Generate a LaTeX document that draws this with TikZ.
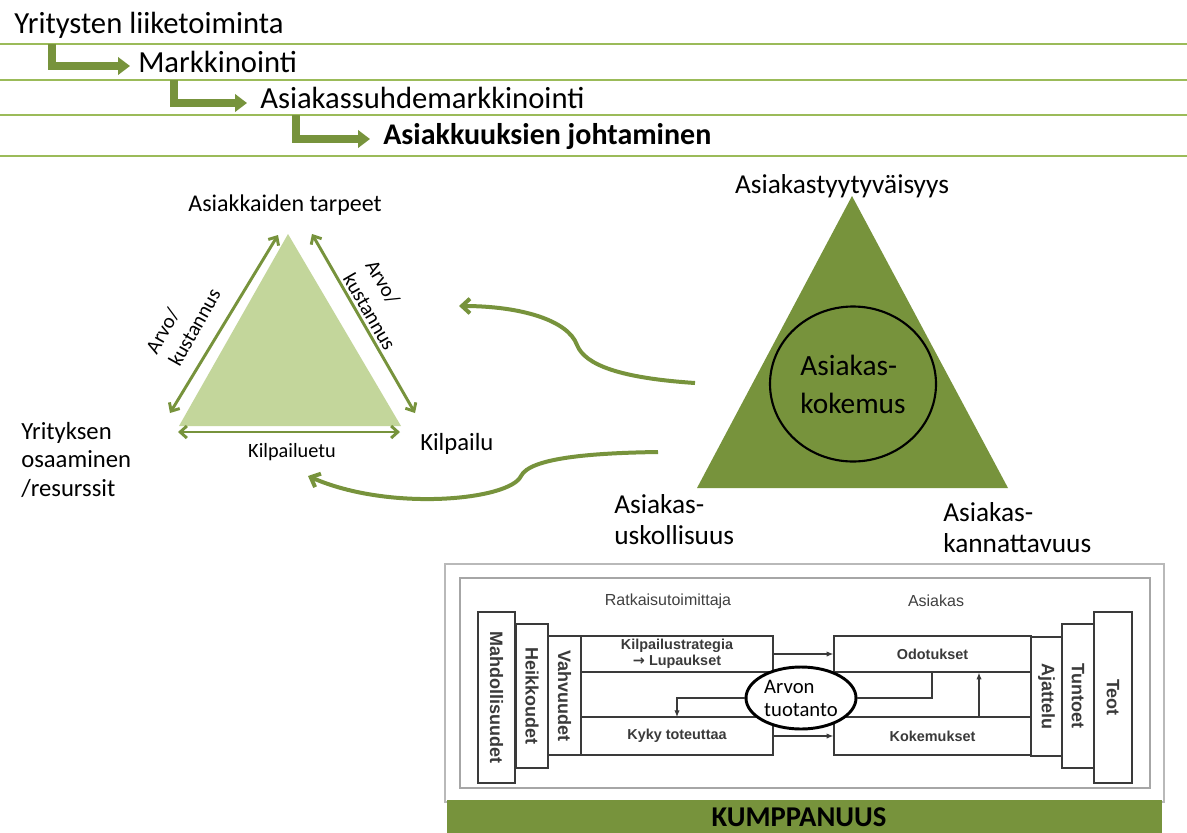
\documentclass[tikz,border=0pt]{standalone}
\usepackage{fontspec}
\setmainfont{Carlito}
\newfontfamily\arialf{Liberation Sans}
\newfontfamily\arrowf{DejaVu Sans}
\usetikzlibrary{arrows.meta,shapes.geometric,calc}
\definecolor{olive}{HTML}{77933C}
\definecolor{lightolive}{HTML}{C3D69B}
\definecolor{rulegreen}{HTML}{9BBB59}
\definecolor{ink}{HTML}{3A3A3A}
\begin{document}
\begin{tikzpicture}[x=0.75pt,y=-0.75pt,
  rulel/.style={rulegreen,line width=1.5pt},
  stair/.style={olive,line width=6pt,line join=miter,-{Triangle[length=9pt,width=13pt]}},
  dbl/.style={olive,line width=2.2pt,{Straight Barb[length=5pt,width=9pt]}-{Straight Barb[length=5pt,width=9pt]}},
  flow/.style={olive,line width=3pt,-{Straight Barb[length=6pt,width=11pt]}},
  topl/.style={anchor=base west,inner sep=0pt,font=\fontsize{23}{27}\selectfont},
  lab/.style={inner sep=0pt,font=\fontsize{18.5}{21.4}\selectfont,align=left},
  big/.style={inner sep=0pt,font=\fontsize{20.5}{23.3}\selectfont,align=left},
  sbox/.style={draw=ink,line width=1.1pt,fill=white,inner sep=0pt,rotate=-90,
    font=\arialf\bfseries\fontsize{13.5}{15}\selectfont,text=ink},
  hbox/.style={draw=ink,line width=1.1pt,fill=white,inner sep=0pt,align=center,
    font=\arialf\bfseries\fontsize{10.8}{12}\selectfont,text=ink},
  thinl/.style={ink,line width=0.8pt},
  tharr/.style={thinl,-{Latex[length=5pt,width=4pt]}},
]
\path[fill=white,use as bounding box] (0,0) rectangle (1187,832);

% ---- hierarchy of concepts
\foreach \yy in {44,80,115,156} \draw[rulel] (0,\yy) -- (1187,\yy);
\node[topl] (l1) at (14,33) {Yritysten liiketoiminta};
\node[topl] (l2) at (138,72) {Markkinointi};
\node[topl] (l3) at (260,108) {Asiakassuhdemarkkinointi};
\node[topl,font=\fontsize{22.5}{27}\selectfont\bfseries] (l4) at (383,144) {Asiakkuuksien johtaminen};
\draw[stair] (52,44) |- ($(l2.base west)+(-8,-6)$);
\draw[stair] (174,80) |- ($(l3.base west)+(-13,-5)$);
\draw[stair] (296,115) |- ($(l4.base west)+(-13,-5)$);

% ---- competitive triangle
\coordinate (tA) at (288,234);
\coordinate (tB) at (179,426);
\coordinate (tC) at (401,426);
\fill[lightolive] (tA) -- (tB) -- (tC) -- cycle;
\coordinate (aL1) at (170,413); \coordinate (aL2) at (278,235);
\coordinate (aR1) at (312,234); \coordinate (aR2) at (415,413);
\coordinate (aB1) at (178,432); \coordinate (aB2) at (400,432);
\draw[dbl] (aL1) -- (aL2);
\draw[dbl] (aR1) -- (aR2);
\draw[dbl] (aB1) -- (aB2);
\node[lab,font=\fontsize{18}{21.4}\selectfont] (need) at (285,205) {Asiakkaiden tarpeet};
\node[lab,anchor=west] (comp) at (420,444) {Kilpailu};
\node[lab,font=\fontsize{15.2}{17}\selectfont] (edge) at (292,452) {Kilpailuetu};
\node[lab,anchor=north west] (res) at (21,422) {Yrityksen\\osaaminen\\/resurssit};
\node[lab,font=\fontsize{15.5}{19.5}\selectfont,rotate=60.6] (vl) at (183,321) {Arvo/\\kustannus};
\node[lab,font=\fontsize{15.5}{19.5}\selectfont,rotate=-60] (vr) at (381,305) {Arvo/\\kustannus};

% ---- feedback curves
\draw[flow] (695,383) .. controls (620,378) and (585,365) .. (577,345)
  .. controls (568,320) and (520,306) .. (459,306);
\draw[flow] (658,452) .. controls (590,453) and (530,458) .. (521,476)
  .. controls (510,500) and (390,512) .. (308,476);

% ---- customer experience triangle
\fill[olive] (852,196) -- (697,488) -- (1008,488) -- cycle;
\node[draw=black,line width=1.6pt,ellipse,minimum width=166*0.75pt,minimum height=155*0.75pt,
  inner sep=0pt,align=left,font=\fontsize{22}{28.5}\selectfont] (exp) at (853,384) {Asiakas-\\kokemus};
\node[big] (sat) at (842,186) {Asiakastyytyväisyys};
\node[big,anchor=north west] (loy) at (614,494) {Asiakas-\\uskollisuus};
\node[big,anchor=north west] (prof) at (943,502) {Asiakas-\\kannattavuus};

% ---- value creation frame
\draw[gray!55,line width=1.5pt] (445,564) rectangle (1164,802);
\draw[gray!70,line width=0.8pt] (460,578) rectangle (1150,788);
\node[font=\arialf\fontsize{12}{14}\selectfont,text=gray!50!black] (rat) at (668,601) {Ratkaisutoimittaja};
\node[font=\arialf\fontsize{12}{14}\selectfont,text=gray!50!black] (asi) at (936,601) {Asiakas};

\node[sbox,minimum width=171*0.75pt,minimum height=37*0.75pt] (mah) at (496.5,697.5) {Mahdollisuudet};
\node[sbox,minimum width=144*0.75pt,minimum height=32*0.75pt] (hei) at (532,696) {Heikkoudet};
\node[sbox,minimum width=119*0.75pt,minimum height=33*0.75pt] (vah) at (564.5,695.5) {Vahvuudet};
\node[sbox,minimum width=171*0.75pt,minimum height=38*0.75pt] (teo) at (1113,697.5) {Teot};
\node[sbox,minimum width=144*0.75pt,minimum height=32*0.75pt] (tun) at (1078,696) {Tuntoet};
\node[sbox,minimum width=119*0.75pt,minimum height=31*0.75pt] (aja) at (1046.5,696.5) {Ajattelu};

\node[hbox,minimum width=192*0.75pt,minimum height=36*0.75pt] (kil) at (677,654)
  {Kilpailustrategia\\{\arrowf\bfseries →} Lupaukset};
\node[hbox,minimum width=192*0.75pt,minimum height=38*0.75pt] (kyky) at (677,736) {Kyky toteuttaa};
\node[hbox,minimum width=197*0.75pt,minimum height=36*0.75pt] (odo) at (932.5,654) {Odotukset};
\node[hbox,minimum width=197*0.75pt,minimum height=38*0.75pt] (kok) at (932.5,736) {Kokemukset};

\draw[tharr] (kil.east) -- (odo.west);
\draw[tharr] (kyky.east) -- (kok.west);

\node[draw=black,line width=2.2pt,fill=white,ellipse,minimum width=110*0.75pt,minimum height=62*0.75pt,
  inner sep=0pt,align=left,font=\fontsize{15.5}{17.3}\selectfont] (arvo) at (801,698) {Arvon\\tuotanto};

\coordinate (fbL) at (677,717);
\coordinate (fbR) at (932,672);
\coordinate (fbV) at (979,700);
\draw[tharr] (arvo.west) -| (fbL);
\draw[thinl] (arvo.east) -| (fbR);
\draw[tharr] (kok.north -| fbV) -- (odo.south -| fbV);

% ---- partnership bar
\fill[olive] (447,800) rectangle (1162,834);
\node[inner sep=0pt,font=\bfseries\fontsize{21.5}{24}\selectfont] (kum) at (799,817) {KUMPPANUUS};
\end{tikzpicture}
\end{document}
